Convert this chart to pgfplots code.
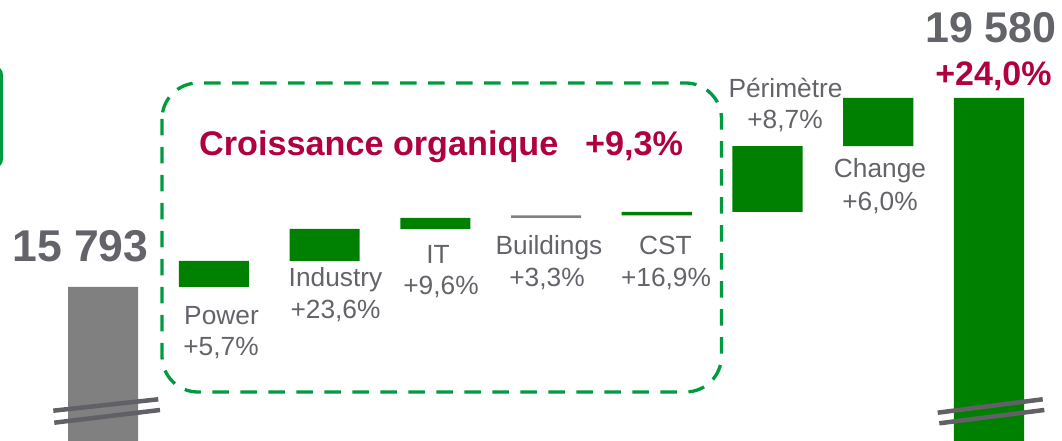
\documentclass[border=0pt]{standalone}
\usepackage{fontspec}
\setmainfont{Liberation Sans}
\usepackage{pgfplots}
\usepackage{pgfplotstable}
\pgfplotsset{compat=1.18}
\definecolor{bargreen}{RGB}{0,128,0}
\definecolor{bargray}{RGB}{128,128,128}
\definecolor{txtgray}{RGB}{99,99,106}
\definecolor{crimson}{RGB}{176,0,64}
\definecolor{dashgreen}{RGB}{0,155,62}
\definecolor{brk}{RGB}{96,96,102}

\pgfplotstableread{
x base green gray
0 0 0 15793
1 15793 521 0
2 16314 641 0
3 16955 221 0
4 17176 0 50
5 17226 70 0
6 17296 1322 0
7 18618 962 0
8 0 19580 0
}\wf

\begin{document}
\begin{tikzpicture}
\begin{axis}[at={(0pt,0pt)}, anchor=south west, scale only axis,
  width=1062pt, height=441pt,
  xmin=-0.93002, xmax=8.65914, ymin=12707.3, ymax=21543.6,
  hide axis, ybar stacked, bar width=70pt, clip=true]
\addplot[draw=none, fill=none] table[x=x,y=base]{\wf};
\addplot[draw=none, fill=bargreen] table[x=x,y=green]{\wf};
\addplot[draw=none, fill=bargray] table[x=x,y=gray]{\wf};
\end{axis}

\begin{scope}[x=1pt, y=-1pt, shift={(0pt,441pt)},
  lbl/.style={inner sep=0pt, anchor=base, text=txtgray, font=\fontsize{26.3}{30}\selectfont}]
% break marks
\draw[brk, line width=4.5pt] (53.3,410.7) -- (158.3,399.3);
\draw[brk, line width=4.5pt] (54.3,422.7) -- (160,410);
\draw[brk, line width=4.5pt] (937.7,412.7) -- (1042.7,399.3);
\draw[brk, line width=4.5pt] (939.3,423.3) -- (1044.3,410);
% dashed group box
\draw[dashgreen, line width=3.3pt, dash pattern=on 16.5pt off 11.5pt, rounded corners=36pt]
  (162,83) rectangle (721.5,392);
% partial box at left
\draw[dashgreen, line width=3pt, rounded corners=8pt] (-80,67) rectangle (1.5,167);
% labels
\node[lbl] at (221.5,325) {Power};
\node[lbl] at (221,356) {+5,7\%};
\node[lbl] at (335.5,287) {Industry};
\node[lbl] at (335.5,319) {+23,6\%};
\node[lbl] at (438,264) {IT};
\node[lbl] at (441,295) {+9,6\%};
\node[lbl] at (549,255) {Buildings};
\node[lbl] at (547,287) {+3,3\%};
\node[lbl] at (665.5,255) {CST};
\node[lbl] at (666,287) {+16,9\%};
\node[lbl] at (785.5,97.7) {Périmètre};
\node[lbl] at (785,129) {+8,7\%};
\node[lbl] at (880,178) {Change};
\node[lbl] at (880,211) {+6,0\%};
% totals
\node[inner sep=0pt, anchor=base, text=txtgray, font=\fontsize{44.5}{50}\selectfont\bfseries] at (80.5,262) {15 793};
\node[inner sep=0pt, anchor=base, text=txtgray, font=\fontsize{43}{50}\selectfont\bfseries] at (991,43) {19 580};
\node[inner sep=0pt, anchor=base, text=crimson, font=\fontsize{34}{40}\selectfont\bfseries] at (993.5,86) {+24,0\%};
\node[inner sep=0pt, anchor=base west, text=crimson, font=\fontsize{34.2}{40}\selectfont\bfseries] at (199,156) {Croissance organique};
\node[inner sep=0pt, anchor=base west, text=crimson, font=\fontsize{34.2}{40}\selectfont\bfseries] at (585,156) {+9,3\%};
\end{scope}
\pgfresetboundingbox
\useasboundingbox (0pt,0pt) rectangle (1062pt,441pt);
\end{tikzpicture}
\end{document}
